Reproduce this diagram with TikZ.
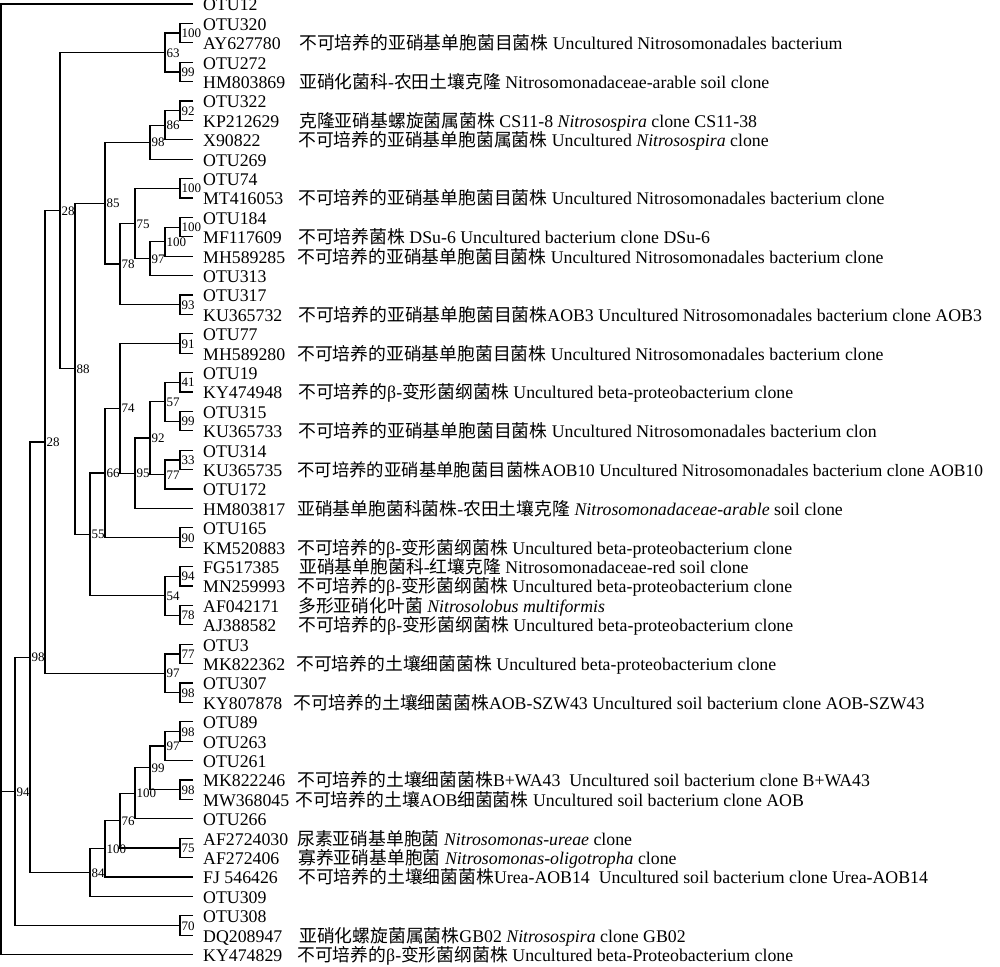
\documentclass[tikz,border=0pt]{standalone}
\usepackage{fontspec}
\setmainfont{Liberation Serif}
\newfontfamily\cjk{Noto Sans CJK SC}
\newcommand\zh[1]{{\cjk #1}}
\newcommand\ky[1]{{4+19.4*(#1)}}
\usetikzlibrary{calc}
\begin{document}
\begin{tikzpicture}[x=1pt,y=-1pt,
  br/.style={line width=1.2pt, black},
  leaf/.style={anchor=base west, inner sep=0pt, yshift=-6.8pt, font=\fontsize{17.8}{20}\selectfont},
  bs/.style={anchor=base west, inner sep=0pt, yshift=-4.6pt, font=\fontsize{13}{14}\selectfont}]
\useasboundingbox (0,0) rectangle (1000,966);
% leaf ends
\foreach \i in {0,...,49} {\coordinate (L\i) at (193,\ky{\i});}
% internal nodes
\coordinate (a100) at (180,\ky{1.5});
\coordinate (a99) at (180,\ky{3.5});
\coordinate (a63) at (165,\ky{2.5});
\coordinate (b92) at (180,\ky{5.5});
\coordinate (b86) at (165,\ky{6.25});
\coordinate (b98) at (150,\ky{7.125});
\coordinate (c100) at (180,\ky{9.5});
\coordinate (c100b) at (180,\ky{11.5});
\coordinate (c100c) at (165,\ky{12.25});
\coordinate (c97) at (150,\ky{13.125});
\coordinate (c75) at (135,\ky{11.3125});
\coordinate (c93) at (180,\ky{15.5});
\coordinate (c78) at (120,\ky{13.40625});
\coordinate (b85) at (105,\ky{10.265625});
\coordinate (d91) at (180,\ky{17.5});
\coordinate (d41) at (180,\ky{19.5});
\coordinate (d99) at (180,\ky{21.5});
\coordinate (d57) at (165,\ky{20.5});
\coordinate (d33) at (180,\ky{23.5});
\coordinate (d77) at (165,\ky{24.25});
\coordinate (d92) at (150,\ky{22.375});
\coordinate (d95) at (135,\ky{24.1875});
\coordinate (d74) at (120,\ky{20.84375});
\coordinate (d90) at (180,\ky{27.5});
\coordinate (d66) at (105,\ky{24.171875});
\coordinate (e94) at (180,\ky{29.5});
\coordinate (e78) at (180,\ky{31.5});
\coordinate (e54) at (165,\ky{30.5});
\coordinate (d55) at (90,\ky{27.3359375});
\coordinate (f88) at (75,\ky{18.80078125});
\coordinate (g28u) at (60,\ky{10.650390625});
\coordinate (h77) at (180,\ky{33.5});
\coordinate (h98) at (180,\ky{35.5});
\coordinate (h97) at (165,\ky{34.5});
\coordinate (g28l) at (45,\ky{22.5751953});
\coordinate (i98) at (180,\ky{37.5});
\coordinate (i97) at (165,\ky{38.25});
\coordinate (i98b) at (180,\ky{40.5});
\coordinate (i99) at (150,\ky{39.375});
\coordinate (i100) at (135,\ky{40.6875});
\coordinate (i75) at (180,\ky{43.5});
\coordinate (i76) at (120,\ky{42.09375});
\coordinate (i100b) at (105,\ky{43.546875});
\coordinate (i84) at (90,\ky{44.7734375});
\coordinate (j98) at (30,\ky{33.6743});
\coordinate (k70) at (180,\ky{47.5});
\coordinate (k94) at (15,\ky{40.587});
\coordinate (root) at (1,\ky{40.587});
% forks with bootstrap values
\foreach \p/\a/\b/\v in {a100/L1/L2/100, a99/L3/L4/99, a63/a100/a99/63,
  b92/L5/L6/92, b86/b92/L7/86, b98/b86/L8/98,
  c100/L9/L10/100, c100b/L11/L12/100, c100c/c100b/L13/100, c97/c100c/L14/97,
  c75/c100/c97/75, c93/L15/L16/93, c78/c75/c93/78, b85/b98/c78/85,
  d91/L17/L18/91, d41/L19/L20/41, d99/L21/L22/99, d57/d41/d99/57,
  d33/L23/L24/33, d77/d33/L25/77, d92/d57/d77/92, d95/d92/L26/95,
  d74/d91/d95/74, d90/L27/L28/90, d66/d74/d90/66,
  e94/L29/L30/94, e78/L31/L32/78, e54/e94/e78/54, d55/d66/e54/55,
  f88/b85/d55/88, g28u/a63/f88/28,
  h77/L33/L34/77, h98/L35/L36/98, h97/h77/h98/97, g28l/g28u/h97/28,
  i98/L37/L38/98, i97/i98/L39/97, i98b/L40/L41/98, i99/i97/i98b/99,
  i100/i99/L42/100, i75/L43/L44/75, i76/i100/i75/76, i100b/i76/L45/100,
  i84/i100b/L46/84, j98/g28l/i84/98, k70/L47/L48/70, k94/j98/k70/94} {
  \draw[br] (\a) -| (\p) |- (\b);
  \node[bs] (bs-\p) at ($(\p)+(1.5,0)$) {\v};
}
\draw[br] (L0) -| (root) |- (L49);
\draw[br] (root) -- (k94);
% leaf labels
\foreach \i/\t in {0/OTU12, 1/OTU320, 2/AY627780, 3/OTU272, 4/HM803869, 5/OTU322,
  6/KP212629, 7/X90822, 8/OTU269, 9/OTU74, 10/MT416053, 11/OTU184, 12/MF117609,
  13/MH589285, 14/OTU313, 15/OTU317, 16/KU365732, 17/OTU77, 18/MH589280, 19/OTU19,
  20/KY474948, 21/OTU315, 22/KU365733, 23/OTU314, 24/KU365735, 25/OTU172,
  26/HM803817, 27/OTU165, 28/KM520883, 29/FG517385, 30/MN259993, 31/AF042171,
  32/AJ388582, 33/OTU3, 34/MK822362, 35/OTU307, 36/KY807878, 37/OTU89, 38/OTU263,
  39/OTU261, 40/MK822246, 41/MW368045, 42/OTU266, 43/AF2724030, 44/AF272406,
  45/FJ 546426, 46/OTU309, 47/OTU308, 48/DQ208947, 49/KY474829} {
  \node[leaf] (n\i) at (203,\ky{\i}) {\t};
}
% descriptions
\node[leaf] (m2) at (299,\ky{2}) {\zh{不可培养的亚硝基单胞菌目菌株} Uncultured Nitrosomonadales bacterium};
\node[leaf] (m4) at (299,\ky{4}) {\zh{亚硝化菌科}-\zh{农田土壤克隆} Nitrosomonadaceae-arable soil clone};
\node[leaf] (m6) at (299,\ky{6}) {\zh{克隆亚硝基螺旋菌属菌株} CS11-8 \textit{Nitrosospira} clone CS11-38};
\node[leaf] (m7) at (298,\ky{7}) {\zh{不可培养的亚硝基单胞菌属菌株} Uncultured \textit{Nitrosospira} clone};
\node[leaf] (m10) at (298,\ky{10}) {\zh{不可培养的亚硝基单胞菌目菌株} Uncultured Nitrosomonadales bacterium clone};
\node[leaf] (m12) at (298,\ky{12}) {\zh{不可培养菌株} DSu-6 Uncultured bacterium clone DSu-6};
\node[leaf] (m13) at (297,\ky{13}) {\zh{不可培养的亚硝基单胞菌目菌株} Uncultured Nitrosomonadales bacterium clone};
\node[leaf] (m16) at (298,\ky{16}) {\zh{不可培养的亚硝基单胞菌目菌株}AOB3 Uncultured Nitrosomonadales bacterium clone AOB3};
\node[leaf] (m18) at (297,\ky{18}) {\zh{不可培养的亚硝基单胞菌目菌株} Uncultured Nitrosomonadales bacterium clone};
\node[leaf] (m20) at (298,\ky{20}) {\zh{不可培养的}β-\zh{变形菌纲菌株} Uncultured beta-proteobacterium clone};
\node[leaf] (m22) at (298,\ky{22}) {\zh{不可培养的亚硝基单胞菌目菌株} Uncultured Nitrosomonadales bacterium clon};
\node[leaf, font=\fontsize{17.4}{20}\selectfont] (m24) at (297,\ky{24}) {\zh{不可培养的亚硝基单胞菌目菌株}AOB10 Uncultured Nitrosomonadales bacterium clone AOB10};
\node[leaf] (m26) at (297,\ky{26}) {\zh{亚硝基单胞菌科菌株}-\zh{农田土壤克隆} \textit{Nitrosomonadaceae-arable} soil clone};
\node[leaf] (m28) at (297,\ky{28}) {\zh{不可培养的}β-\zh{变形菌纲菌株} Uncultured beta-proteobacterium clone};
\node[leaf] (m29) at (299,\ky{29}) {\zh{亚硝基单胞菌科}-\zh{红壤克隆} Nitrosomonadaceae-red soil clone};
\node[leaf] (m30) at (297,\ky{30}) {\zh{不可培养的}β-\zh{变形菌纲菌株} Uncultured beta-proteobacterium clone};
\node[leaf] (m31) at (298,\ky{31}) {\zh{多形亚硝化叶菌} \textit{Nitrosolobus multiformis}};
\node[leaf] (m32) at (298,\ky{32}) {\zh{不可培养的}β-\zh{变形菌纲菌株} Uncultured beta-proteobacterium clone};
\node[leaf] (m34) at (296,\ky{34}) {\zh{不可培养的土壤细菌菌株} Uncultured beta-proteobacterium clone};
\node[leaf] (m36) at (293,\ky{36}) {\zh{不可培养的土壤细菌菌株}AOB-SZW43 Uncultured soil bacterium clone AOB-SZW43};
\node[leaf] (m40) at (297,\ky{40}) {\zh{不可培养的土壤细菌菌株}B+WA43\ \ Uncultured soil bacterium clone B+WA43};
\node[leaf] (m41) at (295,\ky{41}) {\zh{不可培养的土壤}AOB\zh{细菌菌株} Uncultured soil bacterium clone AOB};
\node[leaf] (m43) at (297,\ky{43}) {\zh{尿素亚硝基单胞菌} \textit{Nitrosomonas-ureae} clone};
\node[leaf] (m44) at (298,\ky{44}) {\zh{寡养亚硝基单胞菌} \textit{Nitrosomonas-oligotropha} clone};
\node[leaf] (m45) at (298,\ky{45}) {\zh{不可培养的土壤细菌菌株}Urea-AOB14\ \ Uncultured soil bacterium clone Urea-AOB14};
\node[leaf] (m48) at (299,\ky{48}) {\zh{亚硝化螺旋菌属菌株}GB02 \textit{Nitrosospira} clone GB02};
\node[leaf] (m49) at (297,\ky{49}) {\zh{不可培养的}β-\zh{变形菌纲菌株} Uncultured beta-Proteobacterium clone};
\end{tikzpicture}
\end{document}
